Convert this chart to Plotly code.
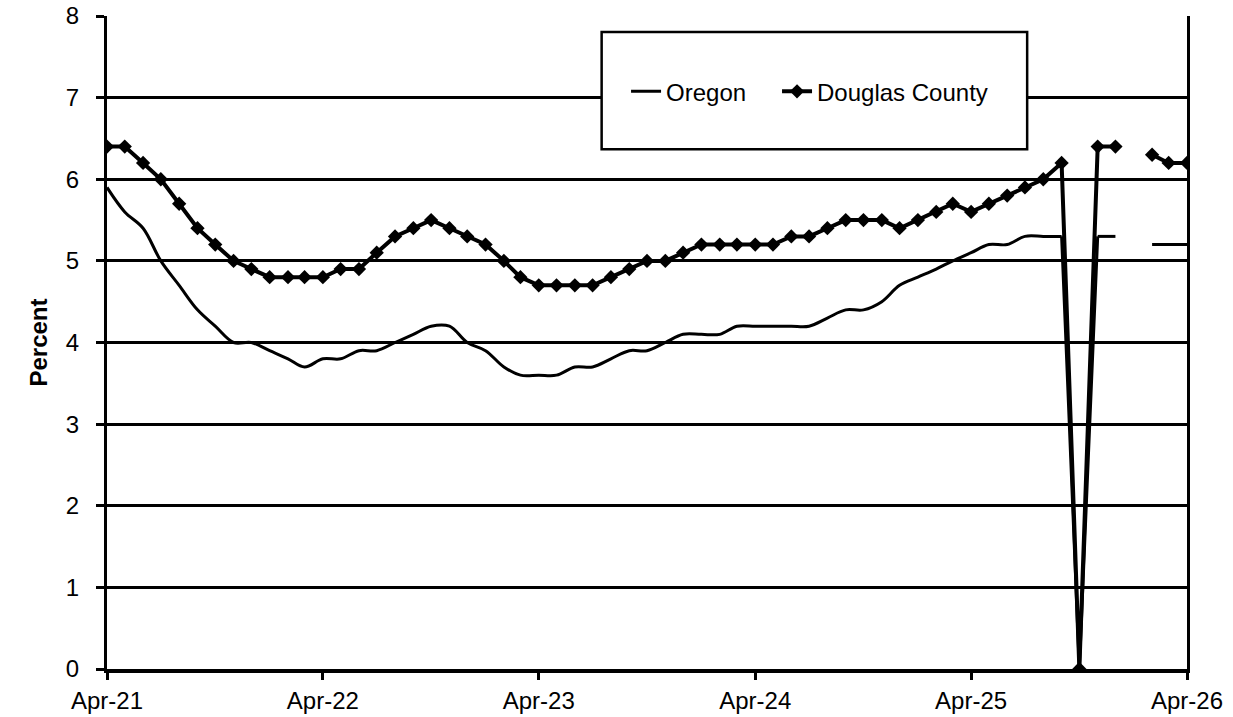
import pandas as pd
import plotly.graph_objects as go

months = pd.date_range("2021-04-01", periods=61, freq="MS")

oregon = [5.9, 5.6, 5.4, 5.0, 4.7, 4.4, 4.2, 4.0, 4.0, 3.9, 3.8, 3.7,
          3.8, 3.8, 3.9, 3.9, 4.0, 4.1, 4.2, 4.2, 4.0, 3.9, 3.7, 3.6,
          3.6, 3.6, 3.7, 3.7, 3.8, 3.9, 3.9, 4.0, 4.1, 4.1, 4.1, 4.2,
          4.2, 4.2, 4.2, 4.2, 4.3, 4.4, 4.4, 4.5, 4.7, 4.8, 4.9, 5.0,
          5.1, 5.2, 5.2, 5.3, 5.3, 5.3, 0.0, 5.3, 5.3, None,
          5.2, 5.2, 5.2]

douglas = [6.4, 6.4, 6.2, 6.0, 5.7, 5.4, 5.2, 5.0, 4.9, 4.8, 4.8, 4.8,
           4.8, 4.9, 4.9, 5.1, 5.3, 5.4, 5.5, 5.4, 5.3, 5.2, 5.0, 4.8,
           4.7, 4.7, 4.7, 4.7, 4.8, 4.9, 5.0, 5.0, 5.1, 5.2, 5.2, 5.2,
           5.2, 5.2, 5.3, 5.3, 5.4, 5.5, 5.5, 5.5, 5.4, 5.5, 5.6, 5.7,
           5.6, 5.7, 5.8, 5.9, 6.0, 6.2, 0.0, 6.4, 6.4, None,
           6.3, 6.2, 6.2]

y_ticks = [0, 1, 2, 3, 4, 5, 6, 7, 8]

FONT = "Liberation Sans, Arial, sans-serif"

# the one zero reading is drawn as straight segments, the rest smoothed
dip = oregon.index(0.0)
oregon_smooth = [None if i == dip else v for i, v in enumerate(oregon)]
dip_x = list(months[dip - 1:dip + 2])
dip_y = oregon[dip - 1:dip + 2]

fig = go.Figure()
fig.add_trace(go.Scatter(
    x=months, y=oregon_smooth, name="Oregon", mode="lines",
    line=dict(color="black", width=3, shape="spline", smoothing=1),
    connectgaps=False, legend="legend",
))
fig.add_trace(go.Scatter(
    x=dip_x, y=dip_y, name="Oregon", mode="lines", showlegend=False,
    line=dict(color="black", width=3),
))
fig.add_trace(go.Scatter(
    x=months, y=douglas, name="Douglas County", mode="lines+markers",
    line=dict(color="black", width=4),
    marker=dict(symbol="diamond", size=11, color="black"),
    connectgaps=False, legend="legend2",
))

# legend frame
fig.add_shape(type="rect", xref="paper", yref="paper",
              x0=0.458, x1=0.852, y0=0.796, y1=0.9755,
              line=dict(color="black", width=2.5), fillcolor="white",
              layer="above")

legend_common = dict(orientation="h", xanchor="left", y=0.884, yanchor="middle",
                     bgcolor="rgba(0,0,0,0)",
                     font=dict(family=FONT, size=24, color="black"),
                     itemwidth=30)

fig.update_layout(
    width=1233, height=717,
    margin=dict(l=107, r=46, t=16, b=48, autoexpand=False),
    paper_bgcolor="white", plot_bgcolor="white",
    font=dict(family=FONT, size=24, color="black"),
    showlegend=True,
    legend=dict(x=0.4806, **legend_common),
    legend2=dict(x=0.6204, **legend_common),
    xaxis=dict(
        type="date",
        range=[months[0], months[-1]],
        tick0=months[0], dtick="M12", tickformat="%b-%y",
        showgrid=False, zeroline=False,
        showline=True, linecolor="black", linewidth=3.5,
        ticks="outside", ticklen=7, tickwidth=3, tickcolor="black",
        tickfont=dict(family=FONT, size=24),
    ),
    yaxis=dict(
        range=[0, 8], tickvals=y_ticks,
        showgrid=True, gridcolor="black", gridwidth=2.5,
        zeroline=False,
        showline=True, linecolor="black", linewidth=3, mirror=True,
        ticks="outside", ticklen=8, tickwidth=2.5, tickcolor="black",
        ticklabelstandoff=12,
        tickfont=dict(family=FONT, size=24),
        title=dict(text="<b>Percent</b>", font=dict(family=FONT, size=24), standoff=12),
    ),
)

fig.write_html("out.html", config={"displayModeBar": False},
               post_script="document.body.style.margin='0';")
